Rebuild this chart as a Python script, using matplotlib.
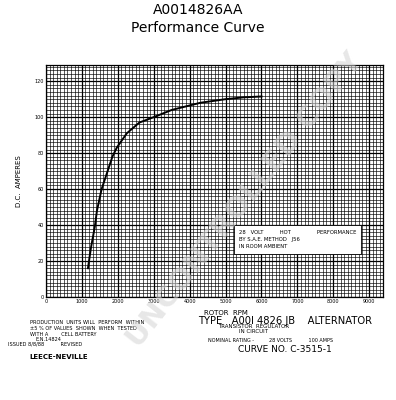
import matplotlib
matplotlib.use("Agg")
import matplotlib.pyplot as plt
from matplotlib.ticker import MultipleLocator

# curva de desempenho
rpm = [1170, 1250, 1360, 1420, 1550, 1700, 1850, 1970, 2250, 2600, 3000, 3500, 4300, 5000, 5500, 6000]
amperes = [16, 27, 39, 48, 60, 69, 78, 83, 91, 97, 100, 104, 108, 110, 111, 111.5]

x_ticks = [0, 1000, 2000, 3000, 4000, 5000, 6000, 7000, 8000, 9000]
y_ticks = [0, 20, 40, 60, 80, 100, 120]

fig = plt.figure(figsize=(3.96, 4.0), dpi=100)
ax = fig.add_axes([0.116, 0.2575, 0.851, 0.58])

ax.plot(rpm, amperes, color="black", linewidth=1.4, zorder=3)

ax.set_xlim(0, 9380)
ax.set_ylim(0, 129)
ax.set_xticks(x_ticks)
ax.set_yticks(y_ticks)
ax.xaxis.set_minor_locator(MultipleLocator(100))
ax.yaxis.set_minor_locator(MultipleLocator(2))
ax.grid(which="major", color="black", linewidth=0.9)
ax.grid(which="minor", color="black", linewidth=0.45)
ax.tick_params(which="both", length=0, labelsize=3.5, pad=1.5)
for s in ax.spines.values():
    s.set_linewidth(0.9)

ax.set_ylabel("D.C.  AMPERES", fontsize=5, labelpad=9)
ax.text(0.47, -0.055, "ROTOR  RPM", transform=ax.transAxes, fontsize=5, ha="left", va="top")

# caixa de observacao
ax.text(5380, 37.5, "28   VOLT          HOT                PERFORMANCE\nBY S.A.E. METHOD   J56\nIN ROOM AMBIENT",
        fontsize=3.8, va="top", ha="left", linespacing=1.6, zorder=4,
        bbox=dict(facecolor="white", edgecolor="black", linewidth=0.6, boxstyle="square,pad=0.9"))

fig.text(0.5, 0.975, "A0014826AA", ha="center", va="center", fontsize=10)
fig.text(0.5, 0.93, "Performance Curve", ha="center", va="center", fontsize=10)

fig.text(0.075, 0.2, "PRODUCTION  UNITS WILL  PERFORM  WITHIN\n±5 % OF VALUES  SHOWN  WHEN  TESTED\nWITH A        CELL BATTERY",
         fontsize=3.6, va="top", linespacing=1.2)
fig.text(0.09, 0.157, "E.N.14824", fontsize=3.6, va="top")
fig.text(0.02, 0.145, "ISSUED 8/8/88          REVISED", fontsize=3.6, va="top")
fig.text(0.075, 0.115, "LEECE-NEVILLE", fontsize=5, va="top", fontweight="bold")

fig.text(0.5, 0.198, "TYPE   A00I 4826 JB    ALTERNATOR", fontsize=7.2, va="center")
fig.text(0.64, 0.177, "TRANSISTOR  REGULATOR\nIN CIRCUIT", fontsize=4, va="center", ha="center", linespacing=0.9)
fig.text(0.525, 0.148, "NOMINAL RATING -          28 VOLTS           100 AMPS", fontsize=3.5, va="center")
fig.text(0.6, 0.125, "CURVE NO. C-3515-1", fontsize=6.5, va="center")

# marca d'agua
fig.text(0.62, 0.5, "UNCONTROLLED COPY", fontsize=21, color="#d4d4d4", alpha=0.55,
         rotation=52, ha="center", va="center", fontweight="bold", zorder=10)

fig.savefig("out.png", dpi=100)
